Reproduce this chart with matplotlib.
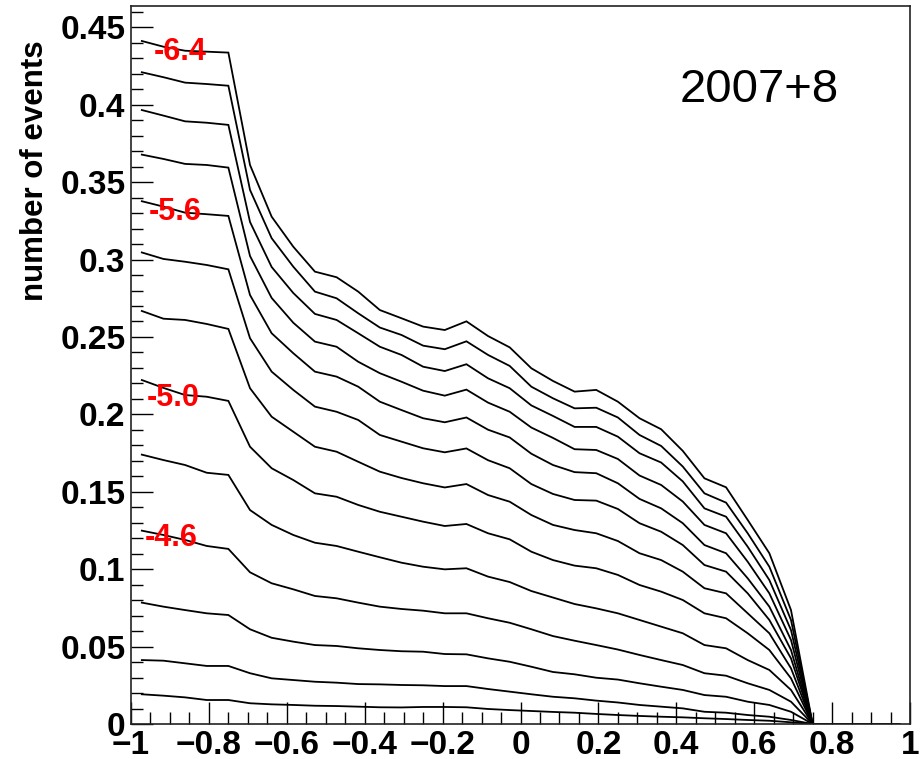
import numpy as np
import matplotlib
matplotlib.use("Agg")
import matplotlib.pyplot as plt
from matplotlib.ticker import MultipleLocator, FixedLocator, FixedFormatter

plt.rcParams['font.family'] = ['Liberation Sans', 'DejaVu Sans']

# ---------------- data ----------------
n_bins = 36
x_range = (-1.0, 1.0)

levels = ["-6.4", "-6.2", "-6.0", "-5.8", "-5.6", "-5.4", "-5.2",
          "-5.0", "-4.8", "-4.6", "-4.4", "-4.2", "-4.0"]
labelled_levels = ["-6.4", "-5.6", "-5.0", "-4.6"]

curve_m64 = [0.4412, 0.4375, 0.4349, 0.4343, 0.4337, 0.3611, 0.3277, 0.3083, 0.2922, 0.2886,
             0.2793, 0.2674, 0.2621, 0.2567, 0.2545, 0.2601, 0.2506, 0.2433, 0.2298, 0.2216,
             0.2147, 0.2158, 0.2082, 0.1975, 0.1904, 0.1764, 0.1587, 0.1529, 0.1318, 0.1103,
             0.0736, 0, 0, 0, 0, 0]
curve_m62 = [0.4210, 0.4178, 0.4143, 0.4134, 0.4123, 0.3450, 0.3138, 0.2954, 0.2793, 0.2750,
             0.2653, 0.2561, 0.2513, 0.2444, 0.2421, 0.2472, 0.2384, 0.2313, 0.2179, 0.2104,
             0.2039, 0.2043, 0.1980, 0.1867, 0.1796, 0.1663, 0.1490, 0.1430, 0.1232, 0.1016,
             0.0672, 0, 0, 0, 0, 0]
curve_m60 = [0.3966, 0.3930, 0.3893, 0.3884, 0.3870, 0.3243, 0.2952, 0.2784, 0.2649, 0.2610,
             0.2524, 0.2437, 0.2384, 0.2308, 0.2280, 0.2324, 0.2233, 0.2169, 0.2058, 0.1990,
             0.1919, 0.1919, 0.1856, 0.1749, 0.1689, 0.1567, 0.1393, 0.1339, 0.1145, 0.0930,
             0.0607, 0, 0, 0, 0, 0]
curve_m58 = [0.3678, 0.3650, 0.3618, 0.3611, 0.3594, 0.3023, 0.2752, 0.2592, 0.2470, 0.2437,
             0.2340, 0.2266, 0.2211, 0.2153, 0.2121, 0.2160, 0.2076, 0.2017, 0.1915, 0.1848,
             0.1775, 0.1770, 0.1712, 0.1605, 0.1544, 0.1437, 0.1286, 0.1232, 0.1048, 0.0844,
             0.0543, 0, 0, 0, 0, 0]
curve_m56 = [0.3377, 0.3342, 0.3303, 0.3293, 0.3282, 0.2771, 0.2524, 0.2395, 0.2276, 0.2244,
             0.2179, 0.2082, 0.2028, 0.1975, 0.1949, 0.1980, 0.1901, 0.1851, 0.1746, 0.1673,
             0.1627, 0.1620, 0.1555, 0.1454, 0.1393, 0.1297, 0.1156, 0.1103, 0.0941, 0.0758,
             0.0478, 0, 0, 0, 0, 0]
curve_m54 = [0.3046, 0.3004, 0.2986, 0.2965, 0.2937, 0.2492, 0.2276, 0.2158, 0.2050, 0.2017,
             0.1964, 0.1867, 0.1824, 0.1781, 0.1755, 0.1780, 0.1704, 0.1652, 0.1550, 0.1486,
             0.1447, 0.1443, 0.1389, 0.1297, 0.1242, 0.1156, 0.1027, 0.0984, 0.0844, 0.0672,
             0.0424, 0, 0, 0, 0, 0]
curve_m52 = [0.2668, 0.2618, 0.2610, 0.2584, 0.2552, 0.2169, 0.1985, 0.1888, 0.1791, 0.1759,
             0.1694, 0.1630, 0.1589, 0.1555, 0.1528, 0.1550, 0.1479, 0.1436, 0.1350, 0.1286,
             0.1253, 0.1232, 0.1182, 0.1103, 0.1059, 0.0984, 0.0877, 0.0844, 0.0715, 0.0586,
             0.0360, 0, 0, 0, 0, 0]
curve_m50 = [0.2222, 0.2171, 0.2125, 0.2114, 0.2087, 0.1791, 0.1652, 0.1576, 0.1490, 0.1468,
             0.1415, 0.1371, 0.1339, 0.1307, 0.1279, 0.1292, 0.1232, 0.1193, 0.1113, 0.1059,
             0.1023, 0.1006, 0.0963, 0.0898, 0.0855, 0.0801, 0.0715, 0.0683, 0.0586, 0.0478,
             0.0295, 0, 0, 0, 0, 0]
curve_m48 = [0.1740, 0.1705, 0.1673, 0.1623, 0.1609, 0.1382, 0.1286, 0.1221, 0.1171, 0.1150,
             0.1113, 0.1077, 0.1042, 0.1016, 0.0999, 0.1006, 0.0952, 0.0917, 0.0859, 0.0817,
             0.0775, 0.0747, 0.0715, 0.0672, 0.0629, 0.0586, 0.0510, 0.0489, 0.0413, 0.0349,
             0.0220, 0, 0, 0, 0, 0]
curve_m46 = [0.1249, 0.1221, 0.1189, 0.1150, 0.1131, 0.0980, 0.0909, 0.0870, 0.0827, 0.0812,
             0.0784, 0.0758, 0.0743, 0.0732, 0.0715, 0.0715, 0.0683, 0.0654, 0.0612, 0.0568,
             0.0538, 0.0510, 0.0481, 0.0446, 0.0413, 0.0381, 0.0328, 0.0312, 0.0263, 0.0220,
             0.0144, 0, 0, 0, 0, 0]
curve_m44 = [0.0784, 0.0758, 0.0736, 0.0715, 0.0704, 0.0612, 0.0557, 0.0532, 0.0510, 0.0504,
             0.0489, 0.0478, 0.0470, 0.0467, 0.0452, 0.0450, 0.0424, 0.0402, 0.0370, 0.0336,
             0.0321, 0.0299, 0.0287, 0.0263, 0.0241, 0.0220, 0.0187, 0.0176, 0.0144, 0.0123,
             0.0079, 0, 0, 0, 0, 0]
curve_m42 = [0.0413, 0.0409, 0.0392, 0.0375, 0.0375, 0.0328, 0.0295, 0.0284, 0.0273, 0.0267,
             0.0258, 0.0256, 0.0252, 0.0250, 0.0245, 0.0245, 0.0226, 0.0209, 0.0192, 0.0176,
             0.0166, 0.0151, 0.0139, 0.0123, 0.0112, 0.0101, 0.0079, 0.0073, 0.0058, 0.0047,
             0.0026, 0, 0, 0, 0, 0]
curve_m40 = [0.0192, 0.0183, 0.0172, 0.0155, 0.0155, 0.0134, 0.0127, 0.0123, 0.0118, 0.0116,
             0.0112, 0.0108, 0.0107, 0.0110, 0.0110, 0.0108, 0.0097, 0.0090, 0.0084, 0.0078,
             0.0073, 0.0065, 0.0058, 0.0052, 0.0047, 0.0043, 0.0037, 0.0032, 0.0026, 0.0021,
             0.0011, 0, 0, 0, 0, 0]

curves = [curve_m64, curve_m62, curve_m60, curve_m58, curve_m56, curve_m54, curve_m52,
          curve_m50, curve_m48, curve_m46, curve_m44, curve_m42, curve_m40]

x_ticks = [-1, -0.8, -0.6, -0.4, -0.2, 0, 0.2, 0.4, 0.6, 0.8, 1]
x_tick_labels = ["\u22121", "\u22120.8", "\u22120.6", "\u22120.4", "\u22120.2", "0",
                 "0.2", "0.4", "0.6", "0.8", "1"]
y_ticks = [0, 0.05, 0.1, 0.15, 0.2, 0.25, 0.3, 0.35, 0.4, 0.45]
y_tick_labels = ["0", "0.05", "0.1", "0.15", "0.2", "0.25", "0.3", "0.35", "0.4", "0.45"]

y_title = "number of events"
period_text = "2007+8"

# ---------------- plot ----------------
edges = np.linspace(x_range[0], x_range[1], n_bins + 1)
centers = 0.5 * (edges[:-1] + edges[1:])

W, H = 924, 759
fig = plt.figure(figsize=(W / 100, H / 100), dpi=100)
ax = fig.add_axes([131 / W, 35 / H, 779 / W, 718 / H])

for vals in curves:
    ax.plot(centers, vals, color="black", lw=1.3, solid_joinstyle="miter")

ax.set_xlim(-1, 1)
ax.set_ylim(0, 0.4638)

ax.xaxis.set_major_locator(FixedLocator(x_ticks))
ax.xaxis.set_major_formatter(FixedFormatter(x_tick_labels))
ax.xaxis.set_minor_locator(MultipleLocator(0.05))
ax.yaxis.set_major_locator(FixedLocator(y_ticks))
ax.yaxis.set_major_formatter(FixedFormatter(y_tick_labels))
ax.yaxis.set_minor_locator(MultipleLocator(0.01))

ax.tick_params(which="both", direction="in", top=False, right=False, width=1.0, color="black")
ax.tick_params(which="major", length=16)
ax.tick_params(which="minor", length=8.6)
ax.tick_params(axis="x", which="major", pad=4)
ax.tick_params(axis="y", which="major", pad=4)
for lab in ax.get_xticklabels() + ax.get_yticklabels():
    lab.set_fontsize(24)
    lab.set_fontweight("bold")

for sp in ax.spines.values():
    sp.set_linewidth(1.2)
    sp.set_color("#222222")

fig.text(35 / W, 1 - 40 / H, y_title, rotation=90, ha="center", va="top",
         fontsize=22.5, fontweight="bold")

label_pos = {"-6.4": (-0.941, 0.4340), "-5.6": (-0.954, 0.3310),
             "-5.0": (-0.960, 0.2105), "-4.6": (-0.964, 0.1200)}
for lv in labelled_levels:
    px, py = label_pos[lv]
    ax.text(px, py, lv, color="red", fontsize=22, fontweight="bold",
            ha="left", va="center")

ax.text(0.614, 0.4096, period_text, fontsize=34, ha="center", va="center")

fig.savefig("out.png", dpi=100)
